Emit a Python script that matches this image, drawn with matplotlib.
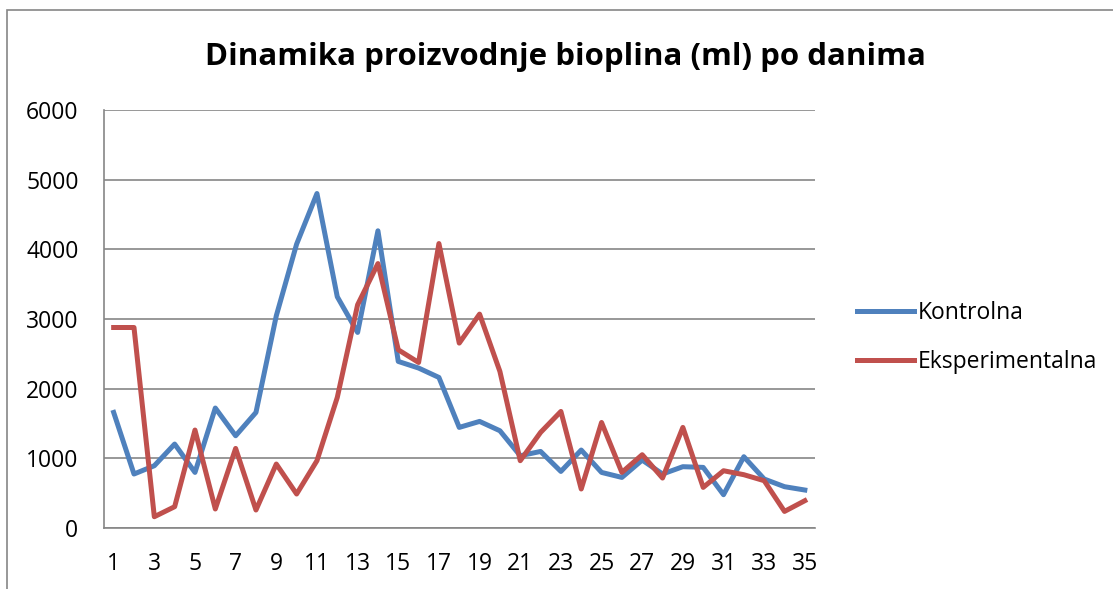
import numpy as np
import matplotlib.pyplot as plt
from matplotlib.patches import Rectangle

# podaci po danima
dani = list(range(1, 36))
kontrolna = [1659, 775, 894, 1205, 798, 1722, 1324, 1659, 3046, 4075,
             4801, 3319, 2807, 4266, 2391, 2296, 2161, 1444, 1530, 1396,
             1037, 1099, 812, 1119, 798, 726, 975, 775, 880, 870,
             478, 1023, 703, 593, 545]
eksperimentalna = [2878, 2878, 162, 306, 1406, 273, 1142, 258, 918, 488,
                   966, 1874, 3204, 3796, 2558, 2376, 4083, 2654, 3070, 2247,
                   966, 1372, 1673, 560, 1515, 798, 1052, 717, 1444, 583,
                   822, 765, 679, 238, 392]
naslov = 'Dinamika proizvodnje bioplina (ml) po danima'

plt.rcParams['font.family'] = ['Open Sans', 'DejaVu Sans']

W, H = 1113, 589
fig = plt.figure(figsize=(W / 100, H / 100), dpi=100)
# okvir grafikona
fig.patches.append(Rectangle((7 / W, -0.1), 1.2, 1 - 10 / H + 0.1, transform=fig.transFigure,
                             fill=False, edgecolor='#868686', linewidth=1.2))

ax = fig.add_axes([103.5 / W, 1 - 528 / H, (815 - 103.5) / W, (528 - 110) / H])
x = np.arange(len(dani))
ax.plot(x, kontrolna, color='#4F81BD', linewidth=3.6, label='Kontrolna', solid_joinstyle='round')
ax.plot(x, eksperimentalna, color='#C0504D', linewidth=3.6, label='Eksperimentalna', solid_joinstyle='round')

ax.set_xlim(-0.5, len(dani) - 0.5)
ax.set_ylim(0, 6000)
ax.set_yticks(range(0, 6001, 1000))
ax.set_xticks(x[::2])
ax.set_xticklabels([str(d) for d in dani[::2]])
ax.grid(axis='y', color='#868686', linewidth=1.2)
ax.set_axisbelow(True)
for s in ['top', 'right']:
    ax.spines[s].set_visible(False)
ax.spines['left'].set_color('#868686')
ax.spines['bottom'].set_color('#868686')
ax.spines['left'].set_linewidth(1.2)
ax.spines['bottom'].set_linewidth(1.2)
ax.tick_params(length=0, labelsize=16.5)
ax.tick_params(axis='x', pad=17)
ax.tick_params(axis='y', pad=18)

fig.text(565 / W, 1 - 57 / H, naslov, ha='center', va='center', fontsize=22.5, fontweight='bold')

leg = ax.legend(loc='center left', bbox_to_anchor=(1.03, 0.456), frameon=False, fontsize=16.5,
                handlelength=2.5, handletextpad=0.15, labelspacing=1.1)

fig.savefig('out.png', dpi=100)
